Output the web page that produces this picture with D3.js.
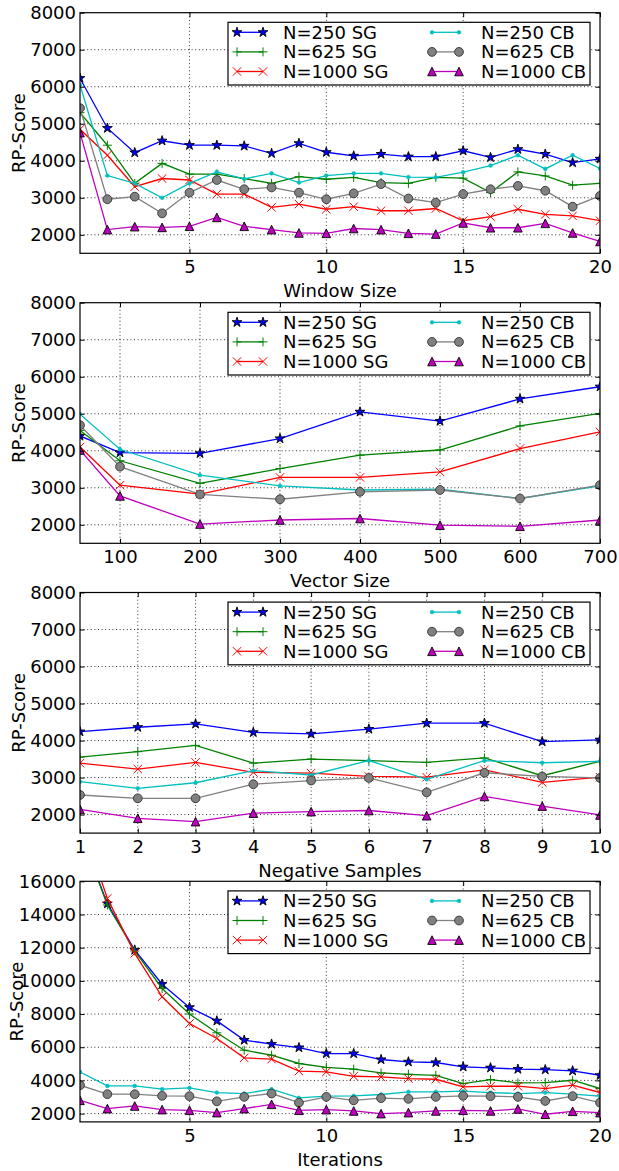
<!DOCTYPE html>
<html><head><meta charset="utf-8">
<script src="https://cdn.jsdelivr.net/npm/d3@7"></script>
<style>body{margin:0;background:#fff}svg{display:block}text{font-family:"DejaVu Sans",sans-serif}</style>
</head><body><svg id="c" width="619" height="1171"></svg>
<script>
// ---------- data ----------
const seriesNames = ["N=250 SG","N=625 SG","N=1000 SG","N=250 CB","N=625 CB","N=1000 CB"];

const windowSize = d3.range(1,21);
const ws_sg250  = [6230,4880,4220,4540,4420,4420,4400,4200,4470,4230,4130,4180,4110,4110,4270,4090,4310,4180,3950,4050];
const ws_sg625  = [5300,4420,3390,3930,3640,3640,3520,3390,3570,3500,3550,3410,3390,3550,3530,3140,3700,3590,3340,3390];
const ws_sg1000 = [4850,4150,3300,3520,3480,3100,3100,2740,2830,2690,2760,2650,2650,2710,2380,2490,2690,2550,2510,2380];
const ws_cb250  = [6050,3600,3390,3000,3390,3700,3510,3660,3410,3600,3660,3660,3560,3550,3690,3870,4150,3780,4150,3790];
const ws_cb625  = [5420,2960,3030,2580,3140,3480,3230,3280,3140,2960,3120,3370,2980,2870,3100,3230,3320,3190,2760,3050];
const ws_cb1000 = [4760,2140,2220,2200,2230,2470,2230,2140,2050,2040,2170,2140,2040,2020,2320,2190,2190,2310,2050,1820];

const vectorSize = [50,100,200,300,400,500,600,700];
const vs_sg250  = [4400,3950,3930,4330,5050,4800,5400,5730];
const vs_sg625  = [4550,3730,3120,3520,3880,4020,4670,5010];
const vs_sg1000 = [4100,3070,2830,3280,3280,3430,4060,4510];
const vs_cb250  = [4990,4040,3340,3050,2940,2960,2710,3050];
const vs_cb625  = [4690,3570,2820,2690,2890,2940,2710,3070];
const vs_cb1000 = [4020,2780,2020,2130,2170,1990,1960,2130];

const negSamples = d3.range(1,11);
const ns_sg250  = [4240,4360,4450,4220,4180,4310,4470,4470,3970,4020];
const ns_sg625  = [3550,3700,3870,3390,3500,3460,3410,3530,3050,3440];
const ns_sg1000 = [3390,3230,3410,3140,3120,3030,3010,3210,2870,3010];
const ns_cb250  = [2890,2710,2860,3190,3070,3460,2950,3460,3400,3440];
const ns_cb625  = [2530,2440,2440,2820,2920,2990,2600,3130,3030,2990];
const ns_cb1000 = [2140,1900,1810,2040,2080,2110,1970,2490,2230,1990];

const iterations = d3.range(1,21);
const it_sg250  = [19000,14650,11860,9800,8400,7590,6430,6190,5980,5620,5620,5260,5120,5080,4820,4760,4680,4650,4580,4310];
const it_sg625  = [19000,14570,11800,9540,8000,6870,5820,5520,5020,4780,4680,4450,4370,4310,3810,4050,3850,3870,4010,3510];
const it_sg1000 = [19800,14970,11660,9040,7430,6530,5360,5280,4560,4510,4250,4210,4110,4070,3610,3650,3650,3510,3710,3270];
const it_cb250  = [4510,3670,3670,3470,3550,3270,3210,3470,2950,3050,3070,3150,3310,3310,3350,3270,3210,3270,3170,3050];
const it_cb625  = [3710,3170,3170,3070,3050,2740,3010,3210,2660,3010,2800,2930,2890,3010,3070,3050,3010,2760,3050,2660];
const it_cb1000 = [2800,2300,2460,2240,2200,2060,2300,2560,2200,2240,2160,2000,2060,2160,2200,2160,2280,1960,2140,2060];

const ticks1 = [5,10,15,20];
const ticks2 = [100,200,300,400,500,600,700];
const ticks3 = d3.range(1,11);
const yTicksA = [2000,3000,4000,5000,6000,7000,8000];
const yTicksB = [2000,4000,6000,8000,10000,12000,14000,16000];

// ---------- styles ----------
const styles = [
  {color:"#0000ff", marker:"star"},
  {color:"#008000", marker:"plus"},
  {color:"#ff0000", marker:"x"},
  {color:"#00bfbf", marker:"dot"},
  {color:"#808080", marker:"circle"},
  {color:"#bf00bf", marker:"tri"}
];

const panels = [
  {top:12.7, x:windowSize, xd:[1,20], xt:ticks1, yd:[1500,8000], yt:yTicksA, label:"Window Size",
   s:[ws_sg250,ws_sg625,ws_sg1000,ws_cb250,ws_cb625,ws_cb1000]},
  {top:302.7, x:vectorSize, xd:[50,700], xt:ticks2, yd:[1500,8000], yt:yTicksA, label:"Vector Size",
   s:[vs_sg250,vs_sg625,vs_sg1000,vs_cb250,vs_cb625,vs_cb1000]},
  {top:592.5, x:negSamples, xd:[1,10], xt:ticks3, yd:[1500,8000], yt:yTicksA, label:"Negative Samples",
   s:[ns_sg250,ns_sg625,ns_sg1000,ns_cb250,ns_cb625,ns_cb1000]},
  {top:881.3, x:iterations, xd:[1,20], xt:ticks1, yd:[1500,16000], yt:yTicksB, label:"Iterations",
   s:[it_sg250,it_sg625,it_sg1000,it_cb250,it_cb625,it_cb1000]}
];

const L = 80, R = 600, H = 240.6;
const svg = d3.select("#c");

function drawMarker(g, type, color, x, y){
  const m = g.append("g").attr("transform", `translate(${x},${y})`);
  if(type==="star"){
    m.append("path").attr("d", d3.symbol(d3.symbolStar, 30)()).attr("fill",color).attr("stroke","#000").attr("stroke-width",0.9);
  } else if(type==="plus"){
    m.append("path").attr("d","M-4.5,0H4.5M0,-4.5V4.5").attr("stroke",color).attr("stroke-width",1).attr("fill","none");
  } else if(type==="x"){
    m.append("path").attr("d","M-4.2,-4.2L4.2,4.2M-4.2,4.2L4.2,-4.2").attr("stroke",color).attr("stroke-width",1).attr("fill","none");
  } else if(type==="dot"){
    m.append("circle").attr("r",1.9).attr("fill",color).attr("stroke",color).attr("stroke-width",0.5);
  } else if(type==="circle"){
    m.append("circle").attr("r",4.4).attr("fill",color).attr("stroke","#333").attr("stroke-width",0.9);
  } else if(type==="tri"){
    m.append("path").attr("d","M0,-4.3L-4.3,4.3L4.3,4.3Z").attr("fill",color).attr("stroke","#000").attr("stroke-width",0.9);
  }
}

panels.forEach((p, pi) => {
  const top = p.top, bottom = top + H;
  const x = d3.scaleLinear().domain(p.xd).range([L, R]);
  const y = d3.scaleLinear().domain(p.yd).range([bottom, top]);
  const g = svg.append("g");

  const clipId = "clip"+pi;
  svg.append("clipPath").attr("id", clipId).append("rect")
    .attr("x", L).attr("y", top).attr("width", R-L).attr("height", H);

  // grid
  const grid = g.append("g").attr("stroke","#000").attr("stroke-width",0.8).attr("stroke-dasharray","1,2.6");
  p.xt.filter(t => x(t) > L+1 && x(t) < R-1).forEach(t => {
    grid.append("line").attr("x1",x(t)).attr("x2",x(t)).attr("y1",top).attr("y2",bottom);
  });
  p.yt.filter(t => y(t) > top+1 && y(t) < bottom-1).forEach(t => {
    grid.append("line").attr("x1",L).attr("x2",R).attr("y1",y(t)).attr("y2",y(t));
  });

  // series
  const data = g.append("g").attr("clip-path", `url(#${clipId})`);
  p.s.forEach((vals, si) => {
    const st = styles[si];
    const pts = vals.map((v,i) => [x(p.x[i]), y(v)]);
    data.append("path").attr("d", d3.line()(pts)).attr("fill","none")
      .attr("stroke", st.color).attr("stroke-width",1.3);
    pts.forEach(pt => drawMarker(data, st.marker, st.color, pt[0], pt[1]));
  });

  // axes
  const fmt = d3.format("d");
  const axB = d3.axisBottom(x).tickValues(p.xt).tickFormat(fmt).tickSizeInner(-4.5).tickSizeOuter(0).tickPadding(7);
  const axT = d3.axisTop(x).tickValues(p.xt).tickFormat("").tickSizeInner(-4.5).tickSizeOuter(0);
  const axL = d3.axisLeft(y).tickValues(p.yt).tickFormat(fmt).tickSizeInner(-4.5).tickSizeOuter(0).tickPadding(4);
  const axR = d3.axisRight(y).tickValues(p.yt).tickFormat("").tickSizeInner(-4.5).tickSizeOuter(0);
  [[axB,`translate(0,${bottom})`],[axT,`translate(0,${top})`],[axL,`translate(${L},0)`],[axR,`translate(${R},0)`]].forEach(([a,t]) => {
    const ag = g.append("g").attr("transform", t).call(a);
    ag.select(".domain").remove();
    ag.selectAll("text").attr("font-size",18).attr("font-family","DejaVu Sans").attr("fill","#000");
    ag.selectAll("line").attr("stroke","#000").attr("stroke-width",1);
  });

  // frame
  g.append("rect").attr("x",L).attr("y",top).attr("width",R-L).attr("height",H)
    .attr("fill","none").attr("stroke","#000").attr("stroke-width",1.2);

  // labels
  g.append("text").attr("x",(L+R)/2).attr("y",bottom+44).attr("text-anchor","middle")
    .attr("font-size",18).text(p.label);
  g.append("text").attr("transform",`translate(${pi===3?23:25},${(top+bottom)/2}) rotate(-90)`)
    .attr("text-anchor","middle").attr("font-size",18).text("RP-Score");

  // legend
  const lg = g.append("g");
  lg.append("rect").attr("x",228).attr("y",top+9.6).attr("width",362).attr("height",62.7)
    .attr("fill","#fff").attr("stroke","#000").attr("stroke-width",1.2);
  seriesNames.forEach((name, si) => {
    const col = si < 3 ? 0 : 1, row = si % 3;
    const ry = top + 19.6 + row*19.6;
    const mx1 = col ? 432 : 237, mx2 = col ? 459 : 263, tx = col ? 481 : 283;
    const st = styles[si];
    lg.append("line").attr("x1",mx1).attr("x2",mx2).attr("y1",ry).attr("y2",ry)
      .attr("stroke",st.color).attr("stroke-width",1.3);
    drawMarker(lg, st.marker, st.color, mx1, ry);
    drawMarker(lg, st.marker, st.color, mx2, ry);
    lg.append("text").attr("x",tx).attr("y",ry).attr("dy","0.36em").attr("font-size",18).text(name);
  });
});
</script></body></html>
